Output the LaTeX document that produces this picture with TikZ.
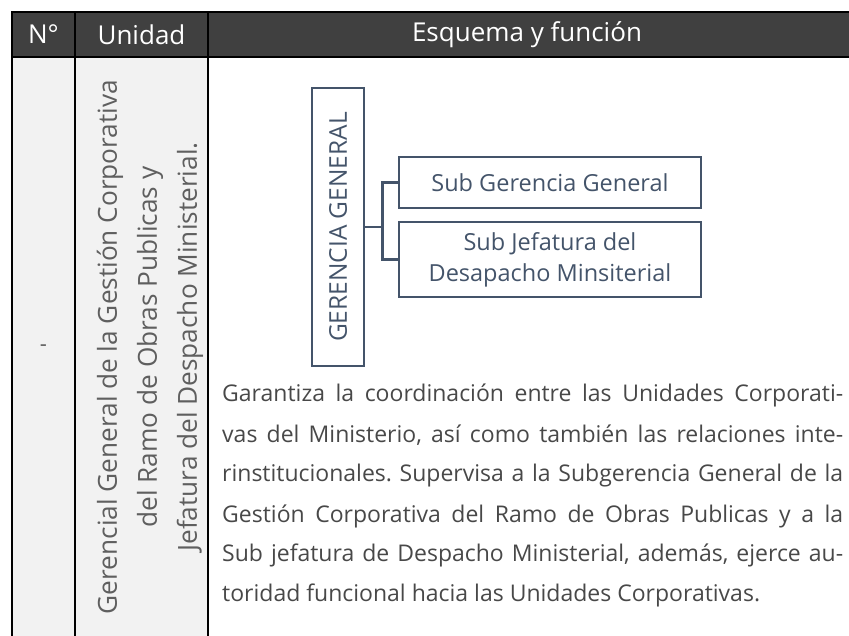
\documentclass[tikz,border=0pt]{standalone}
\usepackage{fontspec}
\setmainfont{Open Sans}
\usepackage{tikz}
\usetikzlibrary{positioning}
\definecolor{hdrgray}{HTML}{404040}
\definecolor{cellgray}{HTML}{F2F2F2}
\definecolor{slate}{HTML}{44546A}
\definecolor{txtgray}{HTML}{484848}
\definecolor{unitgray}{HTML}{5F5F5F}
\tikzset{>=latex}

\begin{document}
\begin{tikzpicture}[x=1pt, y=-1pt]
        % table frame first, org chart and text on top
        \tikzstyle{rule}=[black, line width=2.5pt]
        \tikzstyle{hdr}=[text=white, inner sep=0pt, font=\fontsize{26}{30}\selectfont]
        \tikzstyle{orgbox}=[draw=slate, line width=2.5pt, inner sep=0pt, text=slate, align=center, font=\fontsize{23.5}{31}\selectfont]
        \tikzstyle{link}=[draw=slate, line width=2.5pt]
        \useasboundingbox (0,0) rectangle (849,636);
        \fill[hdrgray] (12,12) rectangle (849,57);
        \fill[cellgray] (12,57) rectangle (208,636);
        \draw[rule] (849,12) -- (12,12) -- (12,636);
        \draw[rule] (12,57) -- (849,57);
        \draw[rule] (75,12) -- (75,636);
        \draw[rule] (208,12) -- (208,636);
        \node[hdr] (HN) at (43.5,34.5) {N°};
        \node[hdr] (HU) at (141.5,34.5) {Unidad};
        \node[hdr] (HE) at (527,34.5) {Esquema y función};
        \node[text=unitgray, font=\fontsize{22}{26}\selectfont] (NUM) at (43.5,348) {-};
        \node[rotate=90, align=center, inner sep=0pt, text=unitgray, font=\fontsize{26.2}{40}\selectfont] (UNI) at (150,347)
                {Gerencial General de la Gestión Corporativa\\del Ramo de Obras Publicas y\\Jefatura del Despacho Ministerial.};
        % org chart
        \node[orgbox, minimum width=52pt, minimum height=278pt] (GG) at (338,227) {};
        \node[rotate=90, inner sep=0pt, text=slate, font=\fontsize{24.5}{30}\selectfont] (GGT) at (GG.center) {GERENCIA GENERAL};
        \node[orgbox, minimum width=302pt, minimum height=51pt] (SGG) at (550,182.5) {Sub Gerencia General};
        \node[orgbox, minimum width=302pt, minimum height=75pt] (SJD) at (550,259.5) {Sub Jefatura del\\Desapacho Minsiterial};
        \draw[link] (GG.east) -- ++(17,0) coordinate (J) |- (SGG.west);
        \draw[link] (J) |- (SJD.west);
        % function text
        \node[anchor=base west, text width=621pt, align=justify, inner sep=0pt, text=txtgray, font=\fontsize{23}{40}\selectfont] (DESC) at (222,402)
                {\tolerance=9999 \hyphenpenalty=10000 \frenchspacing
                 Garantiza la coordinación entre las Unidades Corporati-\linebreak
                 vas del Ministerio, así como también las relaciones inte-\linebreak
                 rinstitucionales. Supervisa a la Subgerencia General de la\linebreak
                 Gestión Corporativa del Ramo de Obras Publicas y a la\linebreak
                 Sub jefatura de Despacho Ministerial, además, ejerce au-\linebreak
                 toridad funcional hacia las Unidades Corporativas.};
\end{tikzpicture}
\end{document}
